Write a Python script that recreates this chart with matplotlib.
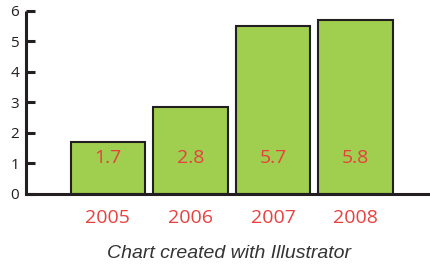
import matplotlib.pyplot as plt

# data
years = ["2005", "2006", "2007", "2008"]
bar_heights = [1.7, 2.85, 5.5, 5.7]      # heights as drawn
value_labels = ["1.7", "2.8", "5.7", "5.8"]  # labels printed in the bars
y_ticks = [0, 1, 2, 3, 4, 5, 6]

green = "#a0ce4e"
red = "#e8403f"
dark = "#231f20"

fig = plt.figure(figsize=(4.3, 2.66), dpi=100)
ax = fig.add_axes([0.0605, 0.2707, 0.9395, 0.688])

x = range(len(years))
ax.bar(x, bar_heights, width=0.9, color=green, edgecolor=dark, linewidth=1.5, zorder=2)

for i, lab in enumerate(value_labels):
    ax.text(i, 1.18, lab, color=red, ha="center", va="center",
            fontsize=14, family="Open Sans", zorder=3)

ax.set_xlim(-0.99, 3.9)
ax.set_ylim(0, 6)
ax.set_yticks(y_ticks)
ax.set_xticks(list(x))
ax.set_xticklabels(years, family="Open Sans", fontsize=14, color=red)
ax.set_yticklabels([str(t) for t in y_ticks], family="Open Sans", fontsize=11, color=dark)

ax.tick_params(axis="y", direction="in", length=6.5, width=2.2, color=dark, pad=5)
ax.tick_params(axis="x", length=0, pad=11)

for s in ["top", "right"]:
    ax.spines[s].set_visible(False)
for s in ["left", "bottom"]:
    ax.spines[s].set_linewidth(2.2)
    ax.spines[s].set_color(dark)
    ax.spines[s].set_zorder(4)
ax.spines["left"].set_capstyle("butt")

fig.text(0.533, 0.047, "Chart created with Illustrator", ha="center", va="center",
         style="italic", family="Liberation Sans", fontsize=14, color="#333333")

fig.savefig("out.png", dpi=100)
